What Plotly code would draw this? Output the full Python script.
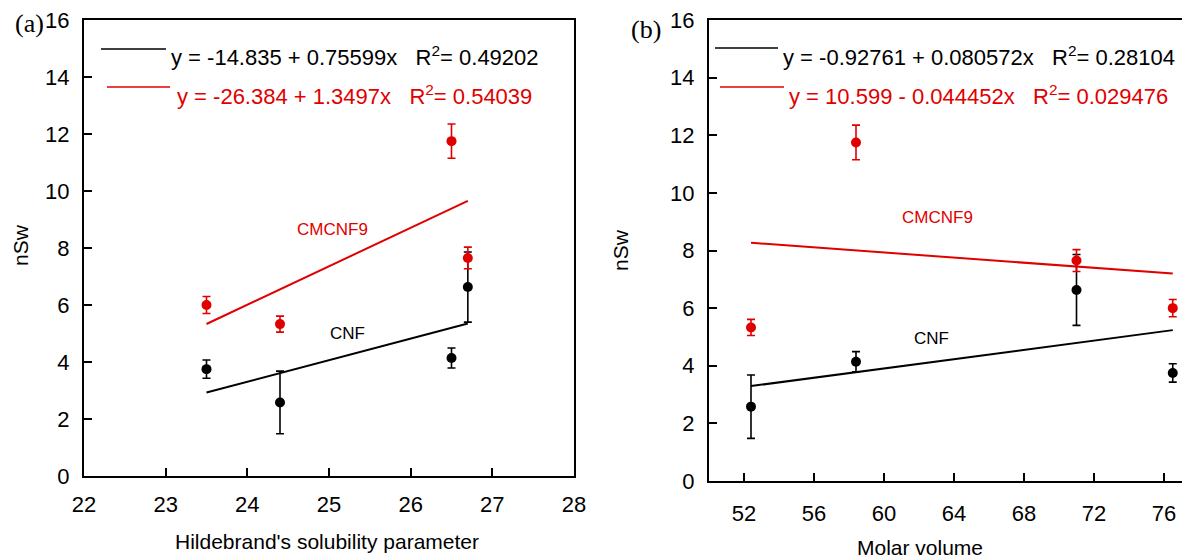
import plotly.graph_objects as go

# ---- data ----
hildebrand = [23.5, 24.4, 26.5, 26.7]
molar_volume = [76.5, 52.4, 58.4, 71.0]
cnf_nsw = [3.75, 2.58, 4.14, 6.63]
cnf_err = [0.32, 1.10, 0.35, 1.23]
cmc_nsw = [6.00, 5.33, 11.75, 7.65]
cmc_err = [0.30, 0.28, 0.60, 0.38]

# linear fits shown in the chart: [intercept, slope]
fit_a_cnf = [-14.835, 0.75599]
fit_a_cmc = [-26.384, 1.3497]
fit_b_cnf = [-0.92761, 0.080572]
fit_b_cmc = [10.599, -0.044452]

eq_a = ["y = -14.835 + 0.75599x   R<sup>2</sup>= 0.49202",
        "y = -26.384 + 1.3497x   R<sup>2</sup>= 0.54039"]
eq_b = ["y = -0.92761 + 0.080572x   R<sup>2</sup>= 0.28104",
        "y = 10.599 - 0.044452x   R<sup>2</sup>= 0.029476"]

x_ticks_a = [22, 23, 24, 25, 26, 27, 28]
x_ticks_b = [52, 56, 60, 64, 68, 72, 76]
y_ticks = [0, 2, 4, 6, 8, 10, 12, 14, 16]

RED = "#e00000"
BLACK = "#000000"
FONT = "Liberation Sans, Arial, sans-serif"
# the page body adds an 8 px margin, so the figure fills the rest of the window
OFF = 8
W, H = 1190 - OFF, 558 - OFF

def px(x):
    return (x - OFF) / W

def py(y):
    return 1 - (y - OFF) / H

def fit_line(xs, coef):
    x0, x1 = min(xs), max(xs)
    return [x0, x1], [coef[0] + coef[1] * x0, coef[0] + coef[1] * x1]

fig = go.Figure()

for xs, fits, xa, ya in [(hildebrand, (fit_a_cnf, fit_a_cmc), "x", "y"),
                          (molar_volume, (fit_b_cnf, fit_b_cmc), "x2", "y2")]:
    for coef, col in zip(fits, (BLACK, RED)):
        lx, ly = fit_line(xs, coef)
        fig.add_trace(go.Scatter(x=lx, y=ly, mode="lines", line=dict(color=col, width=2),
                                 xaxis=xa, yaxis=ya, showlegend=False, hoverinfo="skip"))
    for ys, es, col in [(cnf_nsw, cnf_err, BLACK), (cmc_nsw, cmc_err, RED)]:
        fig.add_trace(go.Scatter(x=xs, y=ys, mode="markers",
                                 marker=dict(color=col, size=10),
                                 error_y=dict(type="data", array=es, visible=True,
                                              color=col, thickness=1.6, width=4),
                                 xaxis=xa, yaxis=ya, showlegend=False))

axis_common = dict(showgrid=False, zeroline=False, showline=True, linecolor="black",
                   linewidth=2, ticks="inside", ticklen=8, tickwidth=1.5, tickcolor="black",
                   automargin=False, ticklabeloverflow="allow",
                   tickfont=dict(family=FONT, size=22, color="black"))

fig.update_layout(
    width=W, height=H, margin=dict(l=0, r=0, t=0, b=0),
    paper_bgcolor="white", plot_bgcolor="white", showlegend=False,
    xaxis=dict(domain=[px(84), px(574)], range=[22, 28], tickvals=x_ticks_a,
               mirror=True, anchor="y", ticklabelstandoff=8, **axis_common),
    yaxis=dict(domain=[py(476), py(20)], range=[0, 16], tickvals=y_ticks,
               mirror=True, anchor="x", ticklabelstandoff=8, **axis_common),
    xaxis2=dict(domain=[px(709), 1.0], range=[50, 50 + (1190 - 709) / 17.5], tickvals=x_ticks_b,
                mirror=True, anchor="y2", ticklabelstandoff=12, **axis_common),
    yaxis2=dict(domain=[py(481), py(20)], range=[0, 16], tickvals=y_ticks,
                mirror=False, anchor="x2", ticklabelstandoff=8, **axis_common),
)

# legend-like sample lines
shapes = []
for (x0, x1, y0, col) in [(101, 166, 49, BLACK), (107, 170, 87, RED),
                          (715, 778, 48, BLACK), (720, 784, 87, RED)]:
    shapes.append(dict(type="line", xref="paper", yref="paper", x0=px(x0), x1=px(x1),
                       y0=py(y0), y1=py(y0), line=dict(color=col, width=1.6)))
fig.update_layout(shapes=shapes)

ann = []
def add_text(text, x, y, col=BLACK, size=22, xanchor="left", family=FONT, angle=0):
    ann.append(dict(text=text, x=px(x), y=py(y), xref="paper", yref="paper",
                    xanchor=xanchor, yanchor="middle", showarrow=False, textangle=angle,
                    font=dict(family=family, size=size, color=col)))

add_text(eq_a[0], 169, 56, BLACK)
add_text(eq_a[1], 175, 95, RED)
add_text(eq_b[0], 781, 56, BLACK)
add_text(eq_b[1], 787, 95, RED)
add_text("CMCNF9", 332, 229, RED, 17, "center")
add_text("CNF", 347, 333, BLACK, 17, "center")
add_text("CMCNF9", 937, 217, RED, 17, "center")
add_text("CNF", 931, 338, BLACK, 17, "center")
add_text("(a)", 29, 24, BLACK, 26, "center", "Liberation Serif, Times New Roman, serif")
add_text("(b)", 646, 29, BLACK, 26, "center", "Liberation Serif, Times New Roman, serif")
add_text("nSw", 20, 245, BLACK, 21, "center", angle=-90)
add_text("nSw", 621, 250, BLACK, 21, "center", angle=-90)
add_text("Hildebrand's solubility parameter", 327, 541, BLACK, 21, "center")
add_text("Molar volume", 920, 547, BLACK, 21, "center")
fig.update_layout(annotations=ann)

fig.write_html("out.html")
